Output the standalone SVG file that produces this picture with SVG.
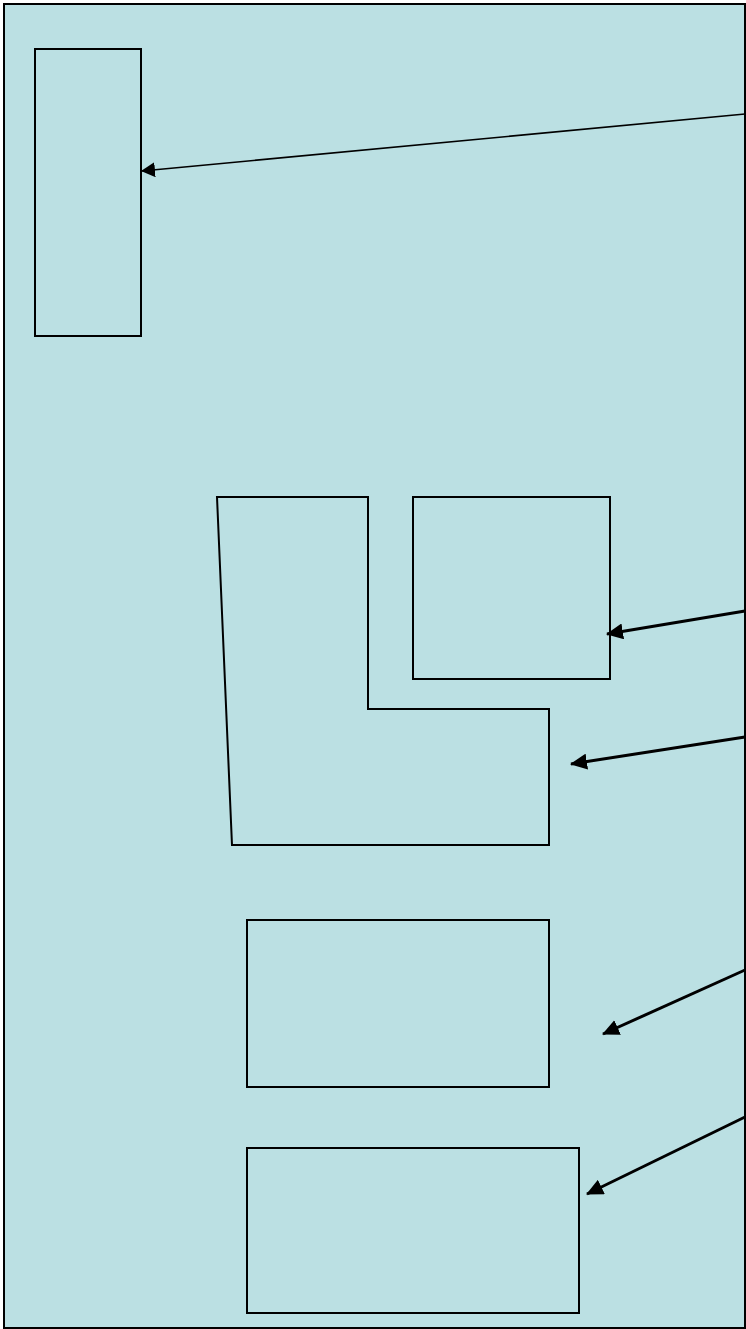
<svg xmlns="http://www.w3.org/2000/svg" width="746" height="1329" viewBox="0 0 746 1329">
<style>
.bg{fill:#bbe0e3;stroke:#000;stroke-width:2}
.n{fill:none;stroke:#000;stroke-width:2}
.c1{stroke:#000;stroke-width:1.6;fill:none}
.c2{stroke:#000;stroke-width:3;fill:none}
</style>
<defs>
<marker id="ah" viewBox="0 0 14 15" refX="13" refY="7.5" markerWidth="14" markerHeight="15" markerUnits="userSpaceOnUse" orient="auto">
<path d="M0,0 L14,7.5 L0,15 Z" fill="#000"/>
</marker>
<marker id="ah2" viewBox="0 0 17 16" refX="16" refY="8" markerWidth="17" markerHeight="16" markerUnits="userSpaceOnUse" orient="auto">
<path d="M0,0 L17,8 L0,16 Z" fill="#000"/>
</marker>
</defs>
<rect class="bg" x="4" y="4" width="741" height="1324"/>
<g id="node1"><rect class="n" x="35" y="49" width="106" height="287"/></g>
<g id="node2"><rect class="n" x="413" y="497" width="197" height="182"/></g>
<g id="node3"><polygon class="n" points="217,497 368,497 368,709 549,709 549,845 232,845"/></g>
<g id="node4"><rect class="n" x="247" y="920" width="302" height="167"/></g>
<g id="node5"><rect class="n" x="247" y="1148" width="332" height="165"/></g>
<g id="connectors">
<line class="c1" x1="745" y1="114" x2="142" y2="171" marker-end="url(#ah)"/>
<line class="c2" x1="745" y1="611" x2="607" y2="634" marker-end="url(#ah2)"/>
<line class="c2" x1="745" y1="737" x2="571" y2="764" marker-end="url(#ah2)"/>
<line class="c2" x1="745" y1="970" x2="603" y2="1034" marker-end="url(#ah2)"/>
<line class="c2" x1="745" y1="1117" x2="587" y2="1194" marker-end="url(#ah2)"/>
</g>
</svg>
